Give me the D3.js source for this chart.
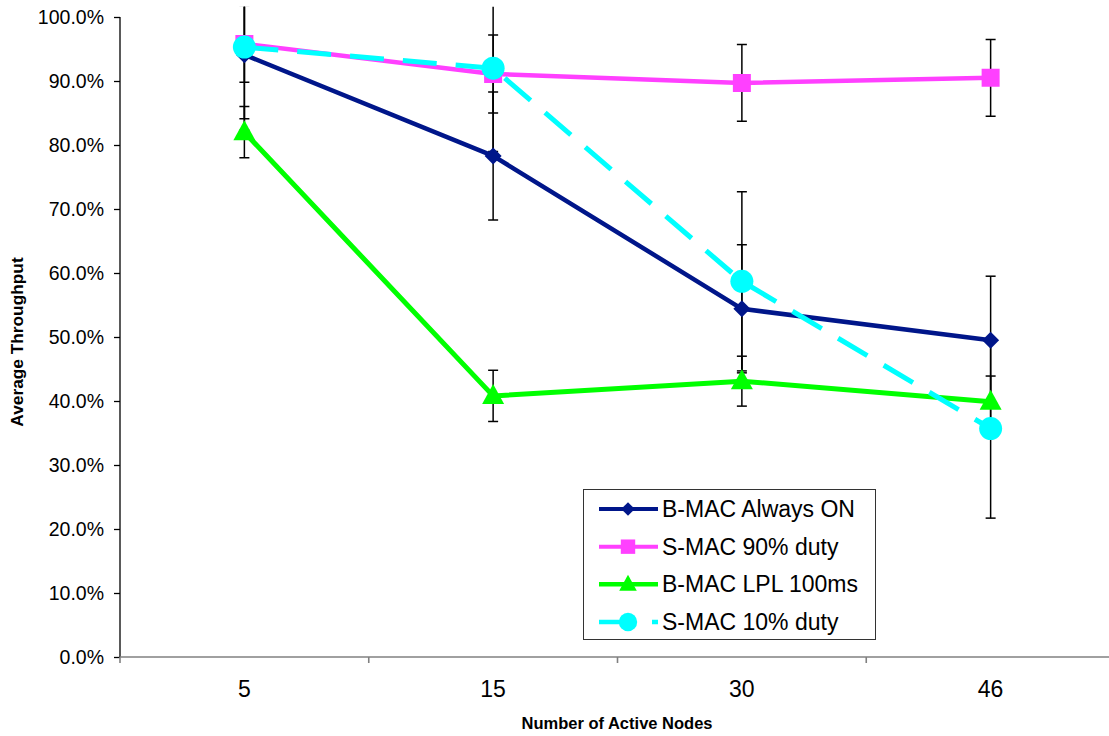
<!DOCTYPE html>
<html>
<head>
<meta charset="utf-8">
<script src="https://cdn.jsdelivr.net/npm/d3@7"></script>
<style>
  html, body { margin: 0; padding: 0; background: #fff; }
  svg { display: block; font-family: "Liberation Sans", Arial, sans-serif; }
</style>
</head>
<body>
<svg id="chart" width="1109" height="736"></svg>
<script>
// Node counts on the x axis
const categories = ["5", "15", "30", "46"];

// Average throughput (%) per protocol, with error bar half-widths (%)
const bmacAlwaysOn    = [94.1, 78.3, 54.4, 49.5];
const bmacAlwaysOnErr = [10, 10, 10, 10];
const smac90          = [95.8, 91.1, 89.7, 90.5];
const smac90Err       = [6, 6.1, 6, 6];
const bmacLpl         = [82.0, 40.8, 43.1, 39.9];
const bmacLplErr      = [4, 4, 3.9, 4];
const smac10          = [95.3, 92.0, 58.7, 35.7];
const smac10Err       = [13, 13, 14, 14];

const seriesNames = ["B-MAC Always ON", "S-MAC 90% duty", "B-MAC LPL 100ms", "S-MAC 10% duty"];
const yTickValues = [0, 10, 20, 30, 40, 50, 60, 70, 80, 90, 100];

const series = [
  { name: seriesNames[0], values: bmacAlwaysOn, err: bmacAlwaysOnErr, color: "#00168a", width: 4.5, dash: null, marker: "diamond" },
  { name: seriesNames[1], values: smac90, err: smac90Err, color: "#ff40ff", width: 4.5, dash: null, marker: "square" },
  { name: seriesNames[2], values: bmacLpl, err: bmacLplErr, color: "#00ff00", width: 5, dash: null, marker: "triangle" },
  { name: seriesNames[3], values: smac10, err: smac10Err, color: "#00ffff", width: 5, dash: "34,19", marker: "circle" }
];

const svg = d3.select("#chart");

const x = d3.scaleBand().domain(categories).range([120, 1115]).padding(0);
const y = d3.scaleLinear().domain([0, 100]).range([657, 17]);
const cx = c => x(c) + x.bandwidth() / 2;

// plot area clip (slightly above 100%)
svg.append("defs").append("clipPath").attr("id", "plotClip")
  .append("rect")
  .attr("x", 120).attr("y", y(101.6))
  .attr("width", 1109 - 120).attr("height", y(0) - y(101.6) + 2);

// Y axis
const yAxis = d3.axisLeft(y)
  .tickValues(yTickValues)
  .tickSize(6)
  .tickPadding(10)
  .tickFormat(d => d3.format(".1f")(d) + "%");
const gy = svg.append("g").attr("transform", "translate(120,0)").call(yAxis);
gy.select(".domain").attr("stroke", "#000").attr("stroke-width", 1.3).attr("d", `M0,${y(100)}V${y(0)}`);
gy.selectAll(".tick line").attr("stroke", "#000").attr("stroke-width", 1.3);
gy.selectAll(".tick text").attr("font-size", 19.5).attr("fill", "#000")
  .attr("font-family", "'Liberation Sans', Arial, sans-serif");

// X axis
const xAxis = d3.axisBottom(x).tickSize(0).tickPadding(24);
const gx = svg.append("g").attr("transform", `translate(0,${y(0)})`).call(xAxis);
gx.select(".domain").attr("stroke", "#808080").attr("stroke-width", 1.6).attr("d", `M120,0H1109`);
gx.selectAll(".tick text").attr("font-size", 23).attr("fill", "#000")
  .attr("font-family", "'Liberation Sans', Arial, sans-serif");
// category boundary ticks
const boundaries = categories.map(c => x(c)).concat([x(categories[categories.length - 1]) + x.bandwidth()]);
gx.selectAll(".bound").data(boundaries).enter().append("line")
  .attr("x1", d => d).attr("x2", d => d).attr("y1", 0).attr("y2", 6)
  .attr("stroke", "#808080").attr("stroke-width", 1.6);

// Axis titles
svg.append("text")
  .attr("transform", `translate(23,${(y(0) + y(100)) / 2 + 5}) rotate(-90)`)
  .attr("text-anchor", "middle").attr("font-weight", "bold").attr("font-size", 17.3)
  .text("Average Throughput");
svg.append("text")
  .attr("x", 617).attr("y", 729)
  .attr("text-anchor", "middle").attr("font-weight", "bold").attr("font-size", 16.5)
  .text("Number of Active Nodes");

const plot = svg.append("g").attr("clip-path", "url(#plotClip)");

// Error bars
series.forEach(s => {
  const g = plot.append("g");
  categories.forEach((c, i) => {
    const hi = y(s.values[i] + s.err[i]);
    const lo = y(s.values[i] - s.err[i]);
    const px = cx(c);
    g.append("line").attr("x1", px).attr("x2", px).attr("y1", hi).attr("y2", lo)
      .attr("stroke", "#000").attr("stroke-width", 1.5);
    [hi, lo].forEach(v => g.append("line")
      .attr("x1", px - 5).attr("x2", px + 5).attr("y1", v).attr("y2", v)
      .attr("stroke", "#000").attr("stroke-width", 1.5));
  });
});

// Marker shapes
function markerPath(type, scale) {
  const k = scale || 1;
  switch (type) {
    case "diamond": { const r = 8.5 * k; return `M0,${-r}L${r},0L0,${r}L${-r},0Z`; }
    case "square": { const r = 9 * k; return `M${-r},${-r}H${r}V${r}H${-r}Z`; }
    case "triangle": { const w = 11 * k, h = 20 * k; return `M0,${-h * 0.6}L${w},${h * 0.4}L${-w},${h * 0.4}Z`; }
    default: return null;
  }
}
function drawMarker(g, type, color, px, py, scale) {
  if (type === "circle") {
    g.append("circle").attr("cx", px).attr("cy", py).attr("r", 11.5 * (scale || 1)).attr("fill", color);
  } else {
    g.append("path").attr("d", markerPath(type, scale)).attr("transform", `translate(${px},${py})`).attr("fill", color);
  }
}

const line = d3.line().x((d, i) => cx(categories[i])).y(d => y(d));

series.forEach(s => {
  const g = plot.append("g");
  g.append("path").datum(s.values).attr("d", line)
    .attr("fill", "none").attr("stroke", s.color).attr("stroke-width", s.width)
    .attr("stroke-dasharray", s.dash).attr("stroke-linejoin", "round");
  s.values.forEach((v, i) => drawMarker(g, s.marker, s.color, cx(categories[i]), y(v)));
});

// Legend
const legend = svg.append("g");
legend.append("rect").attr("x", 583.5).attr("y", 489.5).attr("width", 292).attr("height", 150)
  .attr("fill", "#fff").attr("stroke", "#333").attr("stroke-width", 1);
const rowY = d3.scalePoint().domain(seriesNames).range([509, 622]);
series.forEach(s => {
  const ly = rowY(s.name);
  legend.append("line").attr("x1", 599).attr("x2", 658).attr("y1", ly).attr("y2", ly)
    .attr("stroke", s.color).attr("stroke-width", s.width - 0.5).attr("stroke-dasharray", s.dash);
  drawMarker(legend, s.marker, s.color, 628, ly, 0.8);
  legend.append("text").attr("x", 662).attr("y", ly + 8).attr("font-size", 23).attr("fill", "#000").text(s.name);
});
</script>
</body>
</html>
